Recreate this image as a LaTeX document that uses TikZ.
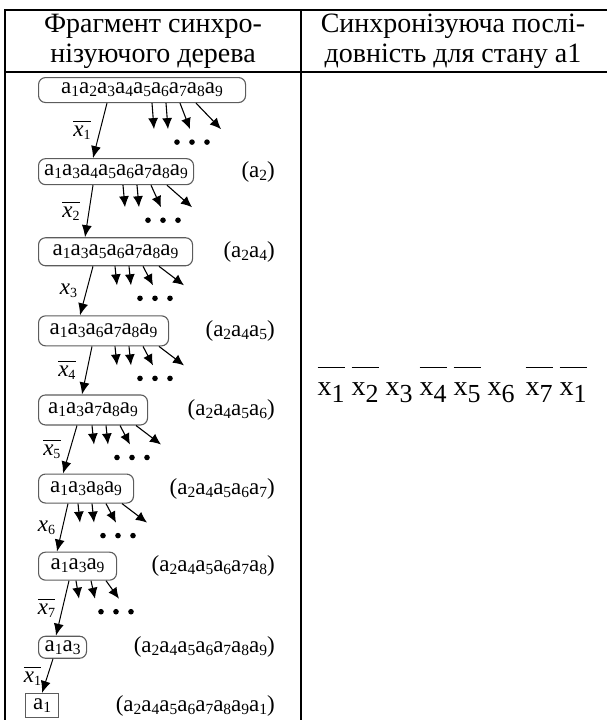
\documentclass[tikz,border=0pt]{standalone}
\usepackage{fontspec}
\setmainfont{Liberation Serif}
\usetikzlibrary{arrows.meta,positioning}
\definecolor{boxgray}{HTML}{5C5C5C}

% state a_i and condition x_i
\newcommand\sta[1]{a\raisebox{-3pt}{\fontsize{15.5}{15.5}\selectfont #1}}
\newcommand\lx[1]{\textit{x}\raisebox{-3pt}{\fontsize{14}{14}\selectfont #1}}
\newcommand\nlx[1]{\vbox{\hrule height 0.8pt\kern 4pt\hbox{\lx{#1}}}}
\newcommand\sx[1]{x\raisebox{-7pt}{\fontsize{26}{26}\selectfont #1}}
\newcommand\nsx[1]{\vbox{\hrule height 1pt\kern 14pt\hbox{\sx{#1}}}}

\newcommand\fourfan{0/2,14/16,28/38,44/69}
\newcommand\threefan{0/3,15/19,30/43}
\newcommand\twigs[4]{%
  \foreach \s/\e in #4
    \draw[twig] ([xshift={#2+\s}]#1.south west) -- ++(\e-\s,#3);
  \foreach \d in {25,40,55}
    \fill ([xshift={#2+\d}]#1.south west) ++(0,#3+13) circle[radius=2.8pt];
}

\begin{document}
\begin{tikzpicture}[x=1pt,y=-1pt,
    head/.style={font=\fontsize{28}{30}\selectfont,align=center,inner sep=0pt},
    box/.style={draw=boxgray,line width=1.1pt,rounded corners=7pt,inner sep=2pt,
                font=\fontsize{23}{25}\selectfont},
    lbl/.style={font=\fontsize{23}{25}\selectfont,inner sep=0pt,anchor=east},
    cond/.style={font=\fontsize{23}{25}\selectfont,inner sep=1pt},
    trans/.style={-{Latex[length=12pt,width=10pt]},line width=1pt},
    twig/.style={-{Latex[length=11pt,width=10pt]},line width=1.1pt}]
  \useasboundingbox (0,0) rectangle (606,720);

  % table
  \draw[line width=1.6pt] (5,730) -- (5,10) -- (612,10) -- (612,730);
  \draw[line width=1.6pt] (5,72) -- (612,72) (301,10) -- (301,730);
  \node[head] (h1) at (153,41) {Фрагмент синхро-\\нізуючого дерева};
  \node[head] (h2) at (453,41) {Синхронізуюча послі-\\довність для стану а1};

  % tree
  \node[box,anchor=north west,minimum width=207pt,minimum height=25pt] (b1) at (38,77)
    {\sta1\sta2\sta3\sta4\sta5\sta6\sta7\sta8\sta9};
  \node[box,below=55pt of b1.south west,anchor=north west,minimum width=155pt,minimum height=26pt] (b2)
    {\sta1\sta3\sta4\sta5\sta6\sta7\sta8\sta9};
  \node[box,below=52pt of b2.south west,anchor=north west,minimum width=154pt,minimum height=28pt] (b3)
    {\sta1\sta3\sta5\sta6\sta7\sta8\sta9};
  \node[box,below=49pt of b3.south west,anchor=north west,minimum width=130pt,minimum height=30pt] (b4)
    {\sta1\sta3\sta6\sta7\sta8\sta9};
  \node[box,below=48pt of b4.south west,anchor=north west,minimum width=109pt,minimum height=30pt] (b5)
    {\sta1\sta3\sta7\sta8\sta9};
  \node[box,below=48pt of b5.south west,anchor=north west,minimum width=95pt,minimum height=29pt] (b6)
    {\sta1\sta3\sta8\sta9};
  \node[box,below=48pt of b6.south west,anchor=north west,minimum width=78pt,minimum height=28pt] (b7)
    {\sta1\sta3\sta9};
  \node[box,below=55pt of b7.south west,anchor=north west,minimum width=48pt,minimum height=22pt] (b8)
    {\sta1\sta3};
  \node[box,sharp corners,anchor=north west,minimum width=33pt,minimum height=24pt] (b9) at (25,693)
    {\sta1};

  \node[lbl] (l2) at (275,0 |- b2) {(\sta2)};
  \node[lbl] (l3) at (275,0 |- b3) {(\sta2\sta4)};
  \node[lbl] (l4) at (275,0 |- b4) {(\sta2\sta4\sta5)};
  \node[lbl] (l5) at (275,0 |- b5) {(\sta2\sta4\sta5\sta6)};
  \node[lbl] (l6) at (275,0 |- b6) {(\sta2\sta4\sta5\sta6\sta7)};
  \node[lbl] (l7) at (275,0 |- b7) {(\sta2\sta4\sta5\sta6\sta7\sta8)};
  \node[lbl] (l8) at (275,0 |- b8) {(\sta2\sta4\sta5\sta6\sta7\sta8\sta9)};
  \node[lbl] (l9) at (275,0 |- b9) {(\sta2\sta4\sta5\sta6\sta7\sta8\sta9\sta1)};

  \draw[trans] ([xshift=69pt]b1.south west) -- node[cond,left=8pt]{\nlx1} ([xshift=55pt]b2.north west);
  \draw[trans] ([xshift=55pt]b2.south west) -- node[cond,left=8pt]{\nlx2} ([xshift=47pt]b3.north west);
  \draw[trans] ([xshift=55pt]b3.south west) -- node[cond,left=8pt]{\lx3} ([xshift=42pt]b4.north west);
  \draw[trans] ([xshift=54pt]b4.south west) -- node[cond,left=10pt]{\nlx4} ([xshift=44pt]b5.north west);
  \draw[trans] ([xshift=39pt]b5.south west) -- node[cond,left=8pt]{\nlx5} ([xshift=25pt]b6.north west);
  \draw[trans] ([xshift=30pt]b6.south west) -- node[cond,left=6pt]{\lx6} ([xshift=19pt]b7.north west);
  \draw[trans] ([xshift=31pt]b7.south west) -- node[cond,left=6pt]{\nlx7} ([xshift=18pt]b8.north west);
  \draw[trans] ([xshift=15pt]b8.south west) -- node[cond,left=5pt]{\nlx1} ([xshift=17pt]b9.north west);

  \twigs{b1}{114}{26}{\fourfan}
  \twigs{b2}{85}{22}{\fourfan}
  \twigs{b3}{77}{19}{\fourfan}
  \twigs{b4}{77}{19}{\fourfan}
  \twigs{b5}{54}{19}{\fourfan}
  \twigs{b6}{40}{19}{\fourfan}
  \twigs{b7}{38}{18}{\threefan}

  % sequence
  \node[anchor=base,font=\fontsize{28}{30}\selectfont] (seq) at (452,395)
    {\nsx1 \nsx2 \sx3 \nsx4 \nsx5 \sx6\hspace{11pt}\nsx7 \nsx1};
\end{tikzpicture}
\end{document}
